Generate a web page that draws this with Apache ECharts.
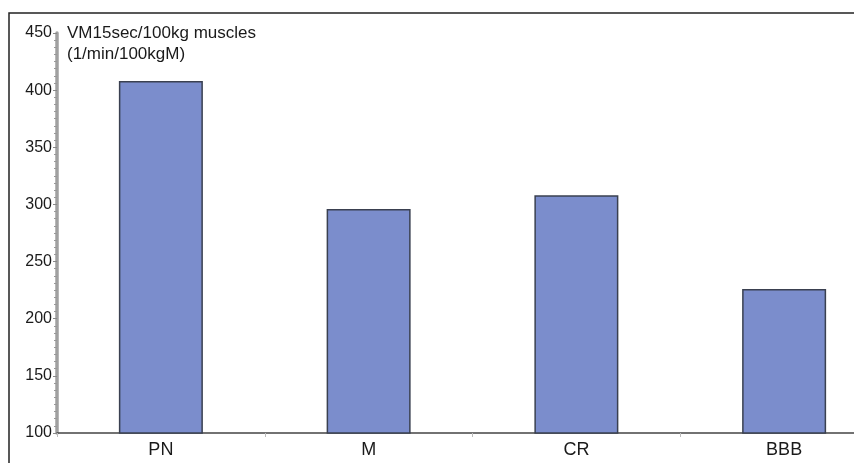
<!DOCTYPE html>
<html><head><meta charset="utf-8">
<script src="https://cdn.jsdelivr.net/npm/echarts@6/dist/echarts.min.js"></script>
<style>html,body{margin:0;padding:0;background:#fff}#c{width:854px;height:463px}</style>
</head><body><div id="c"></div>
<script>
const categories = ['PN', 'M', 'CR', 'BBB'];
const values = [408, 296, 308, 226];
const yTicks = [100, 150, 200, 250, 300, 350, 400, 450];
const axisTitle = 'VM15sec/100kg muscles\n(1/min/100kgM)';

const chart = echarts.init(document.getElementById('c'), null, {renderer: 'canvas'});
chart.setOption({
  animation: false,
  backgroundColor: '#fff',
  grid: {left: 57, width: 831, top: 33, height: 400, containLabel: false, outerBoundsMode: 'none'},
  graphic: [
    {type: 'polyline', shape: {points: [[9, 463], [9, 13], [854, 13]]}, style: {stroke: '#222', lineWidth: 1.5, fill: null}},
    {type: 'text', left: 67, top: 23, style: {text: axisTitle, font: '17px Arial, "Liberation Sans"', fill: '#1a1a1a', lineHeight: 21}}
  ],
  xAxis: {
    type: 'category', data: categories,
    axisLine: {lineStyle: {color: '#444', width: 1.5}},
    axisTick: {show: true, alignWithLabel: false, length: 4, lineStyle: {color: '#bbb'}},
    axisLabel: {color: '#1a1a1a', fontSize: 18, fontFamily: 'Arial, "Liberation Sans"', margin: 8}
  },
  yAxis: {
    type: 'value', min: yTicks[0], max: yTicks[yTicks.length - 1], interval: 50,
    axisLine: {show: true, lineStyle: {color: '#a0a0a0', width: 3.5}},
    axisTick: {show: true, length: 4, lineStyle: {color: '#888'}},
    minorTick: {show: true, splitNumber: 8, length: 3, lineStyle: {color: '#999'}},
    splitLine: {show: false},
    axisLabel: {color: '#1a1a1a', fontSize: 16, fontFamily: 'Arial, "Liberation Sans"', margin: 5}
  },
  series: [{
    type: 'bar', data: values, barWidth: 84,
    itemStyle: {color: '#7b8dcc', borderColor: '#3a4050', borderWidth: 1.5}
  }]
});
</script></body></html>
